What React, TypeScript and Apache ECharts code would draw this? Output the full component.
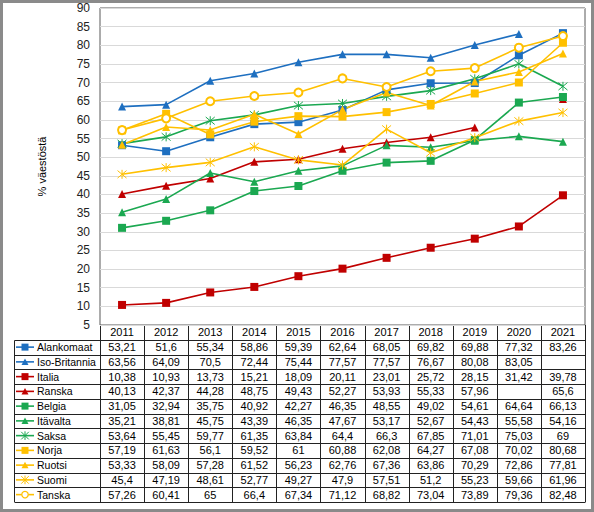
import React, { useEffect, useRef } from "react";
import * as echarts from "echarts";

const years = ["2011", "2012", "2013", "2014", "2015", "2016", "2017", "2018", "2019", "2020", "2021"];

const alankomaat = [53.21, 51.6, 55.34, 58.86, 59.39, 62.64, 68.05, 69.82, 69.88, 77.32, 83.26];
const isoBritannia = [63.56, 64.09, 70.5, 72.44, 75.44, 77.57, 77.57, 76.67, 80.08, 83.05, null];
const italia = [10.38, 10.93, 13.73, 15.21, 18.09, 20.11, 23.01, 25.72, 28.15, 31.42, 39.78];
const ranska = [40.13, 42.37, 44.28, 48.75, 49.43, 52.27, 53.93, 55.33, 57.96, null, 65.6];
const belgia = [31.05, 32.94, 35.75, 40.92, 42.27, 46.35, 48.55, 49.02, 54.61, 64.64, 66.13];
const itavalta = [35.21, 38.81, 45.75, 43.39, 46.35, 47.67, 53.17, 52.67, 54.43, 55.58, 54.16];
const saksa = [53.64, 55.45, 59.77, 61.35, 63.84, 64.4, 66.3, 67.85, 71.01, 75.03, 69];
const norja = [57.19, 61.63, 56.1, 59.52, 61, 60.88, 62.08, 64.27, 67.08, 70.02, 80.68];
const ruotsi = [53.33, 58.09, 57.28, 61.52, 56.23, 62.76, 67.36, 63.86, 70.29, 72.86, 77.81];
const suomi = [45.4, 47.19, 48.61, 52.77, 49.27, 47.9, 57.51, 51.2, 55.23, 59.66, 61.96];
const tanska = [57.26, 60.41, 65, 66.4, 67.34, 71.12, 68.82, 73.04, 73.89, 79.36, 82.48];

const seriesNames = ["Alankomaat", "Iso-Britannia", "Italia", "Ranska", "Belgia", "Itävalta", "Saksa", "Norja", "Ruotsi", "Suomi", "Tanska"];
const seriesValues = [alankomaat, isoBritannia, italia, ranska, belgia, itavalta, saksa, norja, ruotsi, suomi, tanska];

const yAxisTitle = "% väestöstä";

// styles
const BLUE = "#1E6FC0";
const RED = "#C00000";
const GREEN = "#1BA851";
const GOLD = "#FFC000";
const seriesColors = [BLUE, BLUE, RED, RED, GREEN, GREEN, GREEN, GOLD, GOLD, GOLD, GOLD];
const seriesMarkers = ["square", "triangle", "square", "triangle", "square", "triangle", "star", "square", "triangle", "star", "circle"];

const FONT = '"Liberation Sans", Arial, sans-serif';
const ASTERISK = "path://M0,0L10,10M10,0L0,10M5,-1L5,11";

const fmt = (v: number | null) => (v == null ? "" : String(v).replace(".", ","));

export default function App() {
  const ref = useRef<HTMLDivElement>(null);

  useEffect(() => {
    if (!ref.current) return;
    const chart = echarts.init(ref.current, null, { renderer: "svg" });

    const gridLeft = 100;
    const gridRight = 585;
    const gridTop = 8;
    const gridBottom = 325;
    const tableBottom = 502;
    const legendLeft = 14;
    const nCols = years.length;
    const colW = (gridRight - gridLeft) / nCols;
    const nRows = seriesNames.length + 1;
    const rowH = (tableBottom - gridBottom) / nRows;
    const lineColor = "#222";

    const graphics: any[] = [];
    const px = (v: number) => Math.round(v) + 0.5;

    for (let k = 0; k <= nCols; k++) {
      const x = px(gridLeft + k * colW);
      graphics.push({
        type: "line",
        silent: true,
        shape: { x1: x, y1: gridBottom, x2: x, y2: tableBottom },
        style: { stroke: lineColor, lineWidth: 1 },
      });
    }
    graphics.push({
      type: "line",
      silent: true,
      shape: { x1: px(legendLeft), y1: px(gridBottom + rowH), x2: px(legendLeft), y2: tableBottom },
      style: { stroke: lineColor, lineWidth: 1 },
    });
    graphics.push({
      type: "line",
      silent: true,
      shape: { x1: gridLeft, y1: px(gridBottom), x2: gridRight, y2: px(gridBottom) },
      style: { stroke: lineColor, lineWidth: 1 },
    });
    for (let j = 1; j <= nRows; j++) {
      const y = px(gridBottom + j * rowH);
      graphics.push({
        type: "line",
        silent: true,
        shape: { x1: px(legendLeft), y1: y, x2: px(gridRight), y2: y },
        style: { stroke: lineColor, lineWidth: 1 },
      });
    }

    seriesNames.forEach((name, i) => {
      const cy = gridBottom + (i + 1.5) * rowH;
      const color = seriesColors[i];
      const marker = seriesMarkers[i];
      const x1 = 16;
      const x2 = 34;
      const cx = (x1 + x2) / 2;
      graphics.push({
        type: "line",
        silent: true,
        shape: { x1, y1: cy, x2, y2: cy },
        style: { stroke: color, lineWidth: 1.6 },
      });
      if (marker === "square") {
        graphics.push({ type: "rect", silent: true, shape: { x: cx - 3.5, y: cy - 3.5, width: 7, height: 7 }, style: { fill: color } });
      } else if (marker === "triangle") {
        graphics.push({
          type: "polygon",
          silent: true,
          shape: { points: [[cx, cy - 3.5], [cx + 3.5, cy + 3], [cx - 3.5, cy + 3]] },
          style: { fill: color },
        });
      } else if (marker === "circle") {
        graphics.push({ type: "circle", silent: true, shape: { cx, cy, r: 3.2 }, style: { fill: "#fff", stroke: color, lineWidth: 1.2 } });
      } else {
        const r = 3.8;
        [[cx - r, cy - r, cx + r, cy + r], [cx + r, cy - r, cx - r, cy + r], [cx, cy - r - 0.5, cx, cy + r + 0.5]].forEach((s) => {
          graphics.push({ type: "line", silent: true, shape: { x1: s[0], y1: s[1], x2: s[2], y2: s[3] }, style: { stroke: color, lineWidth: 1 } });
        });
      }
      graphics.push({
        type: "text",
        silent: true,
        x: 37,
        y: cy,
        style: { text: name, fill: "#000", font: `10.5px ${FONT}`, align: "left", verticalAlign: "middle" },
      });
      seriesValues[i].forEach((v, k) => {
        graphics.push({
          type: "text",
          silent: true,
          x: gridLeft + (k + 0.5) * colW,
          y: cy,
          style: { text: fmt(v), fill: "#000", font: `11px ${FONT}`, align: "center", verticalAlign: "middle" },
        });
      });
    });

    graphics.push({
      type: "rect",
      silent: true,
      z: 100,
      shape: { x: 1.5, y: 1.5, width: 591, height: 509 },
      style: { fill: "none", stroke: "#8a8a8a", lineWidth: 3 },
    });

    const series = seriesNames.map((name, i) => {
      const color = seriesColors[i];
      const marker = seriesMarkers[i];
      let symbol: string = "rect";
      let symbolSize = 8;
      let itemStyle: any = { color };
      if (marker === "triangle") {
        symbol = "triangle";
        symbolSize = 8;
      } else if (marker === "circle") {
        symbol = "emptyCircle";
        symbolSize = 8;
        itemStyle = { color, borderColor: color, borderWidth: 1.2 };
      } else if (marker === "star") {
        symbol = ASTERISK;
        symbolSize = 9;
        itemStyle = { color, borderColor: color, borderWidth: 1 };
      }
      return {
        name,
        type: "line",
        data: seriesValues[i],
        symbol,
        symbolSize,
        showSymbol: true,
        showAllSymbol: true,
        connectNulls: false,
        lineStyle: { color, width: 1.6 },
        itemStyle,
        emphasis: { disabled: true },
      };
    });

    chart.setOption({
      animation: false,
      backgroundColor: "#fff",
      textStyle: { fontFamily: FONT },
      grid: {
        left: gridLeft,
        top: gridTop,
        width: gridRight - gridLeft,
        height: gridBottom - gridTop,
        show: true,
        borderColor: "#595959",
        borderWidth: 1,
        backgroundColor: "transparent",
      },
      xAxis: {
        type: "category",
        data: years,
        boundaryGap: true,
        axisLine: { show: false },
        axisTick: { show: false },
        axisLabel: { margin: rowH / 2, verticalAlign: "middle", color: "#000", fontSize: 11, fontFamily: FONT },
      },
      yAxis: {
        type: "value",
        min: 5,
        max: 90,
        interval: 5,
        axisLine: { show: false },
        axisTick: { show: false },
        splitLine: { lineStyle: { color: "#d9d9d9", width: 1 } },
        axisLabel: { color: "#222", fontSize: 12, margin: 10, fontFamily: FONT },
        name: yAxisTitle,
        nameLocation: "middle",
        nameGap: 53,
        nameTextStyle: { color: "#000", fontSize: 11, fontFamily: FONT },
      },
      series,
      graphic: graphics,
    });

    return () => chart.dispose();
  }, []);

  return <div ref={ref} style={{ position: "absolute", left: 0, top: 0, width: 594, height: 512 }} />;
}
